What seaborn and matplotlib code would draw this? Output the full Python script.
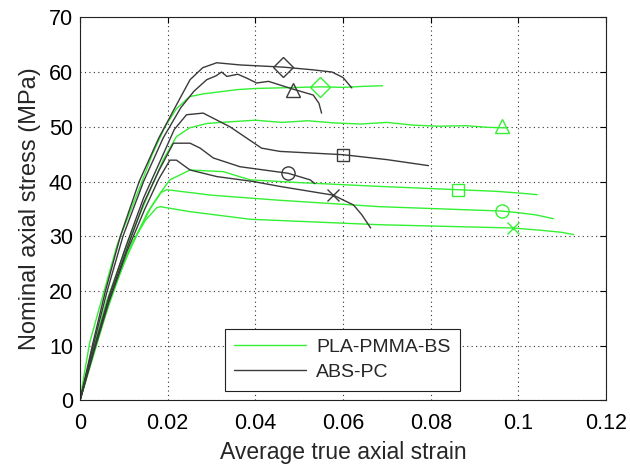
import matplotlib
matplotlib.use("Agg")
import matplotlib.pyplot as plt
import numpy as np
import pandas as pd
import seaborn as sns

# ── datos (strain, stress MPa) ──
pla_diamond_x = [0, 0.001, 0.0022, 0.0034, 0.0055, 0.0085, 0.0137, 0.0165, 0.0194, 0.022, 0.025, 0.028, 0.032,
                 0.036, 0.040, 0.045, 0.050, 0.055, 0.060, 0.065, 0.069]
pla_diamond_y = [0, 5, 10.5, 14, 20, 28.5, 39.1, 45, 50.0, 53.3, 55.5, 56.0, 56.4,
                 56.8, 57.0, 57.1, 57.2, 57.3, 57.2, 57.4, 57.5]

pla_triangle_x = [0, 0.0025, 0.006, 0.0105, 0.0155, 0.019, 0.022, 0.025, 0.0289, 0.034, 0.040, 0.046, 0.052,
                  0.058, 0.064, 0.070, 0.076, 0.082, 0.088, 0.093, 0.0973]
pla_triangle_y = [0, 8, 18, 28, 37.5, 44, 48.2, 49.8, 50.6, 50.9, 51.2, 50.8, 51.1,
                  50.7, 50.5, 50.8, 50.3, 50.1, 50.2, 49.9, 49.8]

pla_square_x = [0, 0.003, 0.0065, 0.011, 0.0155, 0.0183, 0.0205, 0.0251, 0.0327, 0.0388, 0.050, 0.0684,
                0.0863, 0.095, 0.100, 0.1043]
pla_square_y = [0, 8.5, 18, 27, 34.5, 37.9, 40.3, 42.1, 41.8, 40.3, 39.8, 39.1,
                38.5, 38.2, 37.9, 37.6]

pla_circle_x = [0, 0.003, 0.0065, 0.010, 0.0128, 0.016, 0.0185, 0.0198, 0.030, 0.045, 0.0684, 0.0962,
                0.100, 0.104, 0.108]
pla_circle_y = [0, 8.5, 17.5, 25, 30, 35, 38, 38.5, 37.5, 36.6, 35.4, 34.6,
                34.3, 33.9, 33.2]

pla_x_x = [0, 0.003, 0.006, 0.009, 0.012, 0.015, 0.0175, 0.0183, 0.025, 0.0388, 0.0684, 0.0987,
           0.105, 0.110, 0.1126]
pla_x_y = [0, 8, 16, 23, 29, 33, 35.2, 35.4, 34.5, 33.1, 32.1, 31.5,
           31.1, 30.7, 30.3]

abs_diamond_x = [0, 0.0028, 0.0058, 0.0092, 0.0135, 0.018, 0.022, 0.0251, 0.028, 0.0312, 0.0365, 0.0464,
                 0.0532, 0.0575, 0.0600, 0.0620]
abs_diamond_y = [0, 10, 20, 30, 40, 48, 54, 58.6, 60.8, 61.7, 61.3, 60.9,
                 60.4, 60.0, 59.0, 57.1]

abs_triangle_x = [0, 0.003, 0.0062, 0.0098, 0.0145, 0.019, 0.023, 0.026, 0.0289, 0.031, 0.0323, 0.0335,
                  0.036, 0.038, 0.0403, 0.043, 0.0485, 0.0532, 0.0545, 0.0551]
abs_triangle_y = [0, 10, 20, 30, 40, 48, 53.5, 56.5, 58.6, 59.3, 60.0, 59.2,
                  59.6, 58.9, 58.0, 58.3, 56.9, 55.8, 54.3, 52.5]

abs_square_x = [0, 0.0032, 0.0066, 0.0104, 0.0145, 0.019, 0.0215, 0.0243, 0.0281, 0.0342, 0.0414, 0.0456,
                0.060, 0.070, 0.0795]
abs_square_y = [0, 9.5, 19, 28, 37, 45, 49.5, 52.2, 52.5, 50.0, 46.1, 45.5,
                44.9, 44.0, 42.9]

abs_circle_x = [0, 0.0032, 0.0066, 0.0106, 0.0145, 0.018, 0.0213, 0.0251, 0.0274, 0.0304, 0.0365, 0.0475,
                0.0525, 0.0536]
abs_circle_y = [0, 9.5, 18.5, 27.5, 36, 42, 47.0, 47.0, 46.1, 44.3, 42.7, 41.5,
                40.3, 39.6]

abs_x_x = [0, 0.0032, 0.0066, 0.0106, 0.0148, 0.018, 0.0205, 0.022, 0.0251, 0.0312, 0.0395, 0.0456,
           0.0578, 0.0624, 0.0643, 0.0663]
abs_x_y = [0, 9, 18, 27, 35, 40.5, 43.9, 43.9, 42.1, 40.9, 40.0, 39.1,
           37.5, 35.7, 33.9, 31.5]

# posiciones de marcadores
marcas = [
    ("PLA-PMMA-BS", "D", 0.0548, 57.3),
    ("PLA-PMMA-BS", "^", 0.0963, 50.1),
    ("PLA-PMMA-BS", "s", 0.0863, 38.5),
    ("PLA-PMMA-BS", "o", 0.0962, 34.6),
    ("PLA-PMMA-BS", "x", 0.0987, 31.5),
    ("ABS-PC", "D", 0.0464, 60.9),
    ("ABS-PC", "^", 0.0485, 56.8),
    ("ABS-PC", "s", 0.0600, 44.9),
    ("ABS-PC", "o", 0.0475, 41.5),
    ("ABS-PC", "x", 0.0578, 37.5),
]

curvas = [
    ("PLA-PMMA-BS", "p1", pla_diamond_x, pla_diamond_y),
    ("PLA-PMMA-BS", "p2", pla_triangle_x, pla_triangle_y),
    ("PLA-PMMA-BS", "p3", pla_square_x, pla_square_y),
    ("PLA-PMMA-BS", "p4", pla_circle_x, pla_circle_y),
    ("PLA-PMMA-BS", "p5", pla_x_x, pla_x_y),
    ("ABS-PC", "a1", abs_diamond_x, abs_diamond_y),
    ("ABS-PC", "a2", abs_triangle_x, abs_triangle_y),
    ("ABS-PC", "a3", abs_square_x, abs_square_y),
    ("ABS-PC", "a4", abs_circle_x, abs_circle_y),
    ("ABS-PC", "a5", abs_x_x, abs_x_y),
]

VERDE = "#33f033"
NEGRO = "#3a3a3a"
colores = {"PLA-PMMA-BS": VERDE, "ABS-PC": NEGRO}

filas = []
for mat, esp, xs, ys in curvas:
    for x, y in zip(xs, ys):
        filas.append({"strain": x, "stress": y, "material": mat, "specimen": esp})
df = pd.DataFrame(filas)

sns.set_style("white")
plt.rcParams["font.family"] = ["Liberation Sans", "DejaVu Sans"]

fig = plt.figure(figsize=(6.3, 4.66), dpi=100)
ax = fig.add_axes([0.127, 0.1408, 0.835, 0.822])

sns.lineplot(data=df, x="strain", y="stress", hue="material", units="specimen",
             estimator=None, sort=False, palette=colores, linewidth=1.0, ax=ax,
             legend=False)

for mat, mk, x, y in marcas:
    ms = {"D": 10, "^": 10, "s": 9, "o": 9.5, "x": 9}[mk]
    if mk == "x":
        ax.plot(x, y, marker=mk, ms=ms, color=colores[mat], mew=1.0, ls="none")
    else:
        ax.plot(x, y, marker=mk, ms=ms, mfc="none", mec=colores[mat], mew=1.0, ls="none")

ax.set_xlim(0, 0.12)
ax.set_ylim(0, 70)
ax.set_xticks(np.arange(0, 0.121, 0.02))
ax.set_yticks(np.arange(0, 71, 10))
ax.set_xticklabels(["0", "0.02", "0.04", "0.06", "0.08", "0.1", "0.12"])
ax.set_yticklabels([str(v) for v in range(0, 71, 10)])
ax.grid(True, linestyle=(0, (1, 3)), color="#333333", linewidth=0.8)
ax.tick_params(direction="in", length=4, labelsize=15.5, top=True, right=True,
               colors="black", width=0.8)
ax.tick_params(axis="x", pad=9)
ax.tick_params(axis="y", pad=5)
for s in ax.spines.values():
    s.set_color("#222222")
    s.set_linewidth(0.8)

ax.set_xlabel("Average true axial strain", fontsize=16.5, labelpad=5)
ax.set_ylabel("Nominal axial stress (MPa)", fontsize=17, labelpad=6)

h1 = plt.Line2D([], [], color=VERDE, lw=1.0)
h2 = plt.Line2D([], [], color=NEGRO, lw=1.0)
leg = ax.legend([h1, h2], ["PLA-PMMA-BS", "ABS-PC"], loc="lower center",
                bbox_to_anchor=(0.499, 0.0245), borderaxespad=0, fontsize=14,
                frameon=True, fancybox=False, edgecolor="#222222", framealpha=1,
                handlelength=3.7, handletextpad=0.5, borderpad=0.5, labelspacing=0.4)
leg.get_frame().set_linewidth(0.8)

fig.savefig("out.png", dpi=100, facecolor="white")
